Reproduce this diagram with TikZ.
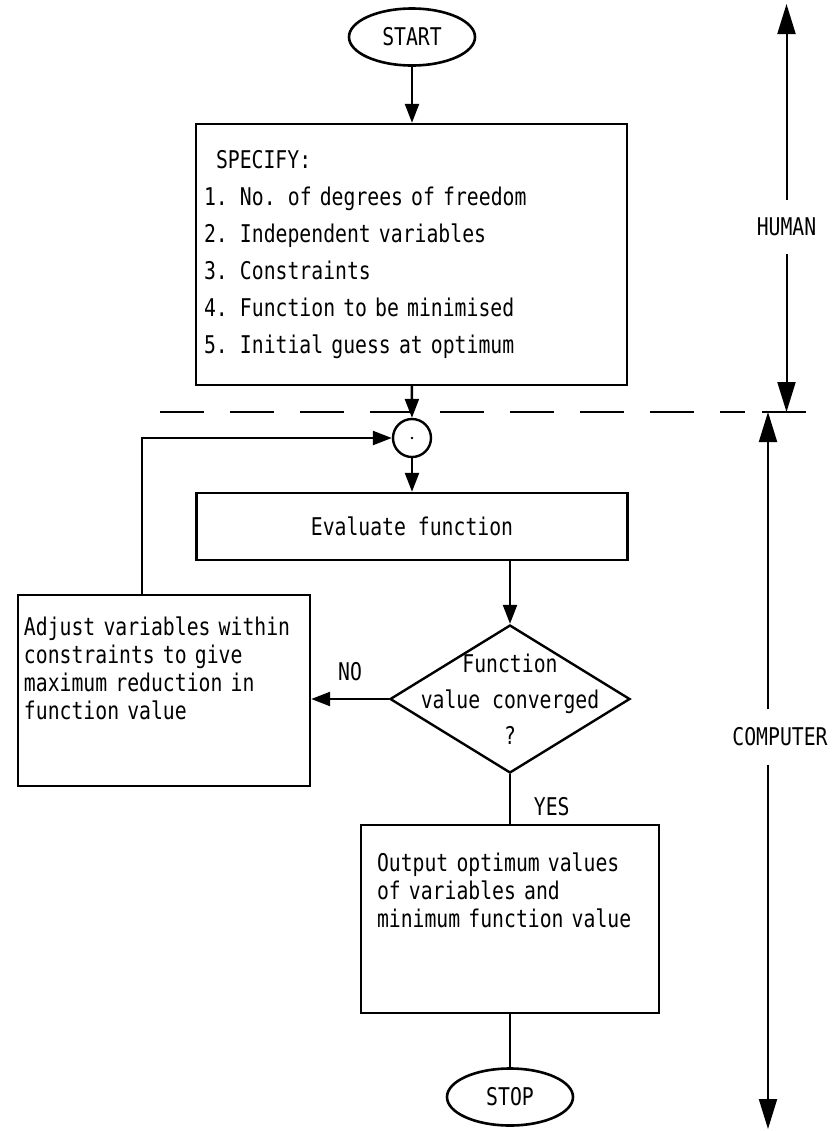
\documentclass[tikz,border=0pt]{standalone}
\usepackage{fontspec}
\setmainfont[FakeStretch=0.81]{DejaVu Sans Mono}
\usetikzlibrary{shapes.geometric,arrows.meta}
\begin{document}
\begin{tikzpicture}[x=0.5pt,y=-0.5pt,
    every node/.style={font=\fontsize{12.2}{14}\selectfont},
    flow/.style={line width=1.2pt,-{Triangle[length=9.5pt,width=7pt]}},
    side/.style={line width=1pt,-{Triangle[length=15pt,width=9pt]}},
    term/.style={draw,ellipse,line width=1.3pt,minimum width=63pt,minimum height=28.5pt,inner sep=0pt},
    proc/.style={draw,rectangle,line width=1.2pt,align=left},
    sidelab/.style={inner xsep=0pt,inner ysep=9pt}]
    \useasboundingbox (0,0) rectangle (839,1131);
    \node[term] (start) at (412,37) {START};
    \node[proc,text width=207.5pt,inner xsep=4pt,minimum height=130.5pt,
      font=\fontsize{12.2}{18.5}\selectfont] (spec) at (411.5,254.5)
      {\hspace*{6pt}SPECIFY:\\1. No. of degrees of freedom\\2. Independent variables\\3. Constraints\\4. Function to be minimised\\5. Initial guess at optimum};
    \node[circle,draw,line width=1.2pt,minimum size=19pt,inner sep=0pt] (junc) at (412,438) {};
    \fill (junc.center) circle (0.7pt);
    \node[proc,align=center,minimum width=215.5pt,minimum height=33.5pt] (eval) at (412,526.5) {Evaluate function};
    \node[draw,diamond,line width=1.2pt,minimum width=120pt,minimum height=74pt,inner sep=0pt,
      label={[align=center,font=\fontsize{12.2}{18}\selectfont]center:Function\\value converged\\?}] (dec) at (510,699) {};
    \node[proc,text width=140pt,inner xsep=3pt,minimum height=95.5pt] (adj) at (164,690.5)
      {Adjust variables within\\constraints to give\\maximum reduction in\\function value\\[8pt]\mbox{}};
    \node[proc,text width=133pt,inner xsep=8pt,minimum height=94pt] (out) at (510,919)
      {Output optimum values\\of variables and\\minimum function value\\[15pt]\mbox{}};
    \node[term] (stop) at (510,1097) {STOP};
    \draw[flow] (start) -- (start |- spec.north);
    \draw[flow] (spec) -- (junc);
    \draw[flow] (junc) -- (eval);
    \draw[flow] (dec.north |- eval.south) -- (dec.north);
    \draw[flow] (dec.west) -- (adj.east |- dec.west) node[pos=0.5,above=5pt] (no) {NO};
    \draw[flow] ([xshift=-11pt]adj.north) |- (junc.west);
    \draw[line width=1.2pt] (dec.south) -- (out.north) node[pos=0.65,right=8pt] (yes) {YES};
    \draw[line width=1.2pt] (out) -- (stop);
    \draw[line width=1.2pt,dash pattern=on 22pt off 13pt] (160,412) -- (745,412);
    \draw[line width=1pt] (762,412) -- (806,412);
    \node[sidelab] (human) at (786.5,227) {HUMAN};
    \node[sidelab] (comp) at (780,737) {COMPUTER};
    \coordinate (htop) at (786.5,4);
    \coordinate (hbot) at (786.5,412);
    \coordinate (ctop) at (768,412);
    \coordinate (cbot) at (768,1129);
    \draw[side] (human) -- (htop);
    \draw[side] (human) -- (hbot);
    \draw[side] (comp.north -| ctop) -- (ctop);
    \draw[side] (comp.south -| cbot) -- (cbot);
  \end{tikzpicture}
\end{document}
